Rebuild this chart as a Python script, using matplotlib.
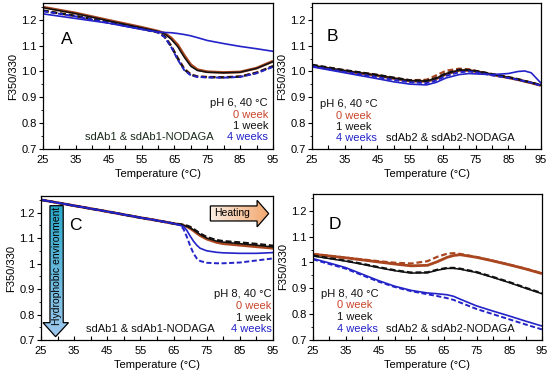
import matplotlib
matplotlib.use("Agg")
import matplotlib.pyplot as plt
import numpy as np
from matplotlib.patches import Polygon
from matplotlib.ticker import MultipleLocator, FuncFormatter

plt.rcParams['font.family'] = ['Liberation Sans', 'DejaVu Sans']

BROWN = '#a9461f'
BROWN_TXT = '#c8442a'
BLACK = '#111111'
BLUE = '#2323c8'

# ---------------- Panel A : sdAb1, pH 6 ----------------
TA = [25, 35, 45, 55, 60, 62, 64, 66, 68, 70, 72, 75, 80, 85, 90, 95]
A_0w = [1.249, 1.226, 1.198, 1.171, 1.156, 1.148, 1.130, 1.103, 1.062, 1.026, 1.007, 0.999, 0.996, 0.998, 1.013, 1.040]
A_0w_N = [1.235, 1.214, 1.189, 1.165, 1.151, 1.136, 1.100, 1.053, 1.011, 0.989, 0.981, 0.979, 0.978, 0.981, 0.996, 1.021]
A_1w = [1.247, 1.224, 1.196, 1.169, 1.155, 1.146, 1.125, 1.096, 1.055, 1.020, 1.004, 0.997, 0.995, 0.997, 1.012, 1.038]
A_1w_N = [1.236, 1.215, 1.190, 1.166, 1.152, 1.135, 1.098, 1.050, 1.008, 0.987, 0.980, 0.978, 0.977, 0.980, 0.995, 1.020]
A_4w = [1.223, 1.205, 1.187, 1.163, 1.153, 1.151, 1.150, 1.147, 1.143, 1.138, 1.131, 1.120, 1.108, 1.097, 1.088, 1.078]
A_4w_N = [1.233, 1.213, 1.188, 1.164, 1.151, 1.133, 1.095, 1.046, 1.005, 0.985, 0.979, 0.977, 0.976, 0.979, 0.993, 1.018]

# ---------------- Panel B : sdAb2, pH 6 ----------------
TB = [25, 35, 45, 50, 55, 60, 63, 66, 70, 73, 76, 80, 85, 88, 90, 92, 95]
B_0w = [1.022, 1.002, 0.984, 0.973, 0.963, 0.962, 0.972, 0.990, 1.004, 1.004, 0.998, 0.988, 0.976, 0.968, 0.962, 0.956, 0.946]
B_0w_N = [1.024, 1.004, 0.986, 0.975, 0.966, 0.968, 0.985, 1.003, 1.011, 1.008, 1.000, 0.990, 0.978, 0.970, 0.963, 0.957, 0.945]
B_1w = [1.023, 1.003, 0.985, 0.974, 0.964, 0.963, 0.973, 0.991, 1.005, 1.005, 0.999, 0.989, 0.977, 0.969, 0.963, 0.957, 0.947]
B_1w_N = [1.026, 1.005, 0.987, 0.976, 0.966, 0.964, 0.975, 0.993, 1.007, 1.006, 1.000, 0.990, 0.978, 0.970, 0.963, 0.957, 0.947]
B_4w = [1.018, 0.995, 0.972, 0.960, 0.951, 0.948, 0.958, 0.975, 0.988, 0.992, 0.990, 0.988, 0.992, 1.000, 1.002, 0.995, 0.955]
B_4w_N = [1.020, 0.998, 0.978, 0.967, 0.958, 0.955, 0.965, 0.983, 0.997, 1.000, 0.995, 0.985, 0.975, 0.968, 0.962, 0.957, 0.945]

# ---------------- Panel C : sdAb1, pH 8 ----------------
TC = [25, 35, 45, 55, 60, 65, 67, 68, 69, 70, 71, 72, 73, 75, 78, 80, 85, 90, 95]
C_0w = [1.250, 1.227, 1.204, 1.180, 1.169, 1.157, 1.153, 1.149, 1.145, 1.138, 1.129, 1.119, 1.110, 1.096, 1.083, 1.078, 1.072, 1.066, 1.060]
C_0w_N = [1.250, 1.227, 1.204, 1.180, 1.169, 1.157, 1.153, 1.151, 1.147, 1.142, 1.134, 1.125, 1.116, 1.102, 1.090, 1.086, 1.081, 1.075, 1.068]
C_1w = [1.250, 1.227, 1.204, 1.180, 1.169, 1.157, 1.153, 1.150, 1.146, 1.140, 1.132, 1.123, 1.114, 1.100, 1.088, 1.084, 1.078, 1.072, 1.065]
C_1w_N = [1.250, 1.227, 1.204, 1.180, 1.169, 1.157, 1.154, 1.152, 1.149, 1.144, 1.136, 1.127, 1.118, 1.104, 1.092, 1.088, 1.083, 1.077, 1.070]
C_4w = [1.250, 1.227, 1.204, 1.180, 1.169, 1.157, 1.150, 1.145, 1.130, 1.108, 1.088, 1.072, 1.060, 1.050, 1.044, 1.042, 1.040, 1.040, 1.043]
C_4w_N = [1.250, 1.227, 1.204, 1.180, 1.169, 1.157, 1.150, 1.135, 1.105, 1.070, 1.040, 1.020, 1.010, 1.003, 1.001, 1.001, 1.004, 1.012, 1.020]

# ---------------- Panel D : sdAb2, pH 8 ----------------
TD = [25, 30, 35, 40, 45, 50, 55, 60, 63, 66, 68, 70, 75, 80, 85, 90, 95]
D_0w = [1.032, 1.025, 1.018, 1.010, 1.002, 0.994, 0.987, 0.989, 1.003, 1.020, 1.027, 1.030, 1.020, 1.006, 0.991, 0.975, 0.957]
D_0w_N = [1.033, 1.026, 1.019, 1.012, 1.005, 0.999, 0.996, 1.005, 1.022, 1.034, 1.036, 1.033, 1.021, 1.007, 0.992, 0.976, 0.958]
D_1w = [1.025, 1.015, 1.005, 0.993, 0.980, 0.968, 0.959, 0.960, 0.970, 0.977, 0.977, 0.974, 0.961, 0.942, 0.922, 0.900, 0.879]
D_1w_N = [1.027, 1.017, 1.007, 0.995, 0.982, 0.970, 0.961, 0.962, 0.972, 0.979, 0.979, 0.976, 0.963, 0.944, 0.924, 0.902, 0.881]
D_4w = [1.015, 0.998, 0.980, 0.955, 0.930, 0.908, 0.892, 0.882, 0.879, 0.875, 0.869, 0.858, 0.832, 0.812, 0.793, 0.773, 0.754]
D_4w_N = [1.012, 0.994, 0.976, 0.951, 0.926, 0.905, 0.889, 0.877, 0.870, 0.862, 0.855, 0.845, 0.820, 0.800, 0.780, 0.760, 0.741]

week_labels = ['0 week', '1 week', '4 weeks']
xticks = [25, 35, 45, 55, 65, 75, 85, 95]
yticks = [0.7, 0.8, 0.9, 1.0, 1.1, 1.2]

fig = plt.figure(figsize=(5.5, 3.76), dpi=100)
W, H = 550.0, 376.0
pos = {
    'A': [43 / W, (H - 149) / H, 230 / W, 146 / H],
    'B': [312 / W, (H - 149) / H, 229 / W, 146 / H],
    'C': [41 / W, (H - 340) / H, 232 / W, 144 / H],
    'D': [313 / W, (H - 340) / H, 229 / W, 146 / H],
}

DASH = (0, (2.6, 1.3))


def style_axes(ax, one_decimal):
    ax.set_xlim(25, 95)
    ax.set_ylim(0.7, 1.265)
    ax.set_xticks(xticks)
    ax.set_yticks(yticks)
    ax.xaxis.set_minor_locator(MultipleLocator(5))
    ax.yaxis.set_minor_locator(MultipleLocator(0.05))
    if one_decimal:
        ax.yaxis.set_major_formatter(FuncFormatter(lambda v, p: f"{v:.1f}"))
    else:
        ax.yaxis.set_major_formatter(FuncFormatter(lambda v, p: "1" if abs(v - 1) < 1e-6 else f"{v:.1f}"))
    ax.tick_params(axis='x', which='major', labelsize=8, length=3, width=0.8, direction='in', pad=4)
    ax.tick_params(axis='x', which='minor', length=3, width=0.8, direction='in')
    ax.tick_params(axis='y', which='major', labelsize=8, length=3, width=0.8, direction='out', pad=1.5)
    ax.tick_params(axis='y', which='minor', length=1.8, width=0.6, direction='out')
    for s in ax.spines.values():
        s.set_linewidth(0.9)
    ax.set_xlabel('Temperature (°C)', fontsize=8, labelpad=3.5)
    ax.set_ylabel('F350/330', fontsize=8, labelpad=2)


def draw(ax, T, s0, s0n, s1, s1n, s4, s4n):
    ax.plot(T, s0, color=BROWN, lw=2.0, solid_capstyle='butt')
    ax.plot(T, s0n, color=BROWN, lw=1.6, linestyle=DASH)
    ax.plot(T, s1, color=BLACK, lw=1.1)
    ax.plot(T, s1n, color=BLACK, lw=1.6, linestyle=DASH)
    ax.plot(T, s4, color=BLUE, lw=1.2)
    ax.plot(T, s4n, color=BLUE, lw=1.4, linestyle=DASH)


def legend_right(ax, ph, ys, x=93.5):
    ax.text(x, ys[0], ph, ha='right', va='center', fontsize=8, color=BLACK)
    for lab, y, c in zip(week_labels, ys[1:], [BROWN_TXT, BLACK, BLUE]):
        ax.text(x, y, lab, ha='right', va='center', fontsize=8, color=c)


def legend_left(ax, ph, ys):
    ax.text(27.4, ys[0], ph, ha='left', va='center', fontsize=8, color=BLACK)
    for lab, y, c in zip(week_labels, ys[1:], [BROWN_TXT, BLACK, BLUE]):
        ax.text(32.4, y, lab, ha='left', va='center', fontsize=8, color=c)


def gradient_poly(ax, verts, c1, c2, direction):
    poly = Polygon(verts, closed=True, facecolor='none', edgecolor='black', lw=0.9, zorder=6)
    ax.add_patch(poly)
    xs = [v[0] for v in verts]
    ys = [v[1] for v in verts]
    n = 256
    g = np.linspace(0, 1, n)
    c1 = np.array(matplotlib.colors.to_rgb(c1))
    c2 = np.array(matplotlib.colors.to_rgb(c2))
    cols = c1[None, :] * (1 - g[:, None]) + c2[None, :] * g[:, None]
    if direction == 'h':
        img = cols[None, :, :]
    else:
        img = cols[:, None, :]
    im = ax.imshow(img, extent=[min(xs), max(xs), min(ys), max(ys)], origin='upper' if direction == 'v' else 'lower',
                   aspect='auto', zorder=5, interpolation='bilinear')
    fill = Polygon(verts, closed=True, facecolor='none', edgecolor='none', transform=ax.transData)
    ax.add_patch(fill)
    im.set_clip_path(fill)


# Panel A
axA = fig.add_axes(pos['A'])
draw(axA, TA, A_0w, A_0w_N, A_1w, A_1w_N, A_4w, A_4w_N)
style_axes(axA, True)
axA.text(30.5, 1.125, 'A', fontsize=12.5, ha='left', va='center')
legend_right(axA, 'pH 6, 40 °C', [0.879, 0.832, 0.789, 0.745])
axA.text(57.5, 0.745, 'sdAb1 & sdAb1-NODAGA', ha='center', va='center', fontsize=8, color='#1a2a1a')

# Panel B
axB = fig.add_axes(pos['B'])
draw(axB, TB, B_0w, B_0w_N, B_1w, B_1w_N, B_4w, B_4w_N)
style_axes(axB, True)
axB.text(29.5, 1.135, 'B', fontsize=12.5, ha='left', va='center')
legend_left(axB, 'pH 6, 40 °C', [0.873, 0.829, 0.785, 0.741])
axB.text(47.5, 0.741, 'sdAb2 & sdAb2-NODAGA', ha='left', va='center', fontsize=8, color=BLACK)

# Panel C
axC = fig.add_axes(pos['C'])
draw(axC, TC, C_0w, C_0w_N, C_1w, C_1w_N, C_4w, C_4w_N)
style_axes(axC, False)
axC.text(33.6, 1.148, 'C', fontsize=12.5, ha='left', va='center')
legend_right(axC, 'pH 8, 40 °C', [0.879, 0.833, 0.788, 0.742], x=94.6)
axC.text(58, 0.742, 'sdAb1 & sdAb1-NODAGA', ha='center', va='center', fontsize=8, color=BLACK)
# Heating arrow
heat = [(76.1, 1.226), (90.2, 1.226), (90.2, 1.248), (93.7, 1.196), (90.2, 1.144), (90.2, 1.167), (76.1, 1.167)]
gradient_poly(axC, heat, '#fbeee4', '#f2a76e', 'h')
axC.text(82.5, 1.198, 'Heating', ha='center', va='center', fontsize=7.5, zorder=7)
# Hydrophobic environment arrow
hyd = [(27.7, 1.227), (31.7, 1.227), (31.7, 0.768), (33.3, 0.768), (29.4, 0.713), (25.6, 0.768), (27.7, 0.768)]
gradient_poly(axC, hyd, '#2aa8c8', '#9fc8ee', 'v')
axC.text(29.7, 0.99, 'Hydrophobic environment', rotation=90, ha='center', va='center', fontsize=7.5, zorder=7)
axC.set_xlim(25, 95)
axC.set_ylim(0.7, 1.265)

# Panel D
axD = fig.add_axes(pos['D'])
draw(axD, TD, D_0w, D_0w_N, D_1w, D_1w_N, D_4w, D_4w_N)
style_axes(axD, False)
axD.text(29.8, 1.148, 'D', fontsize=12.5, ha='left', va='center')
legend_left(axD, 'pH 8, 40 °C', [0.879, 0.836, 0.790, 0.744])
axD.text(47.2, 0.744, 'sdAb2 & sdAb2-NODAGA', ha='left', va='center', fontsize=8, color=BLACK)

fig.savefig('out.png', dpi=100)
